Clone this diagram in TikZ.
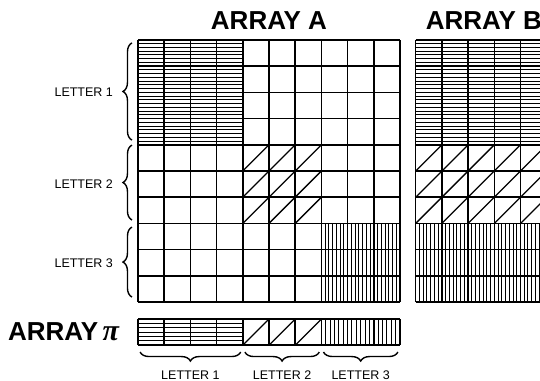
\documentclass[tikz,border=0pt]{standalone}
\usepackage{fontspec}
\setmainfont{Liberation Sans}
\newfontfamily\pifont{Liberation Serif}
\usetikzlibrary{decorations.pathreplacing}

\begin{document}
\begin{tikzpicture}[x=26.2pt,y=26.2pt,
    gridline/.style={line width=1.5pt,xstep=26.2pt,ystep=26.2pt},
    hatch/.style={line width=1pt},
    slash/.style={line width=1.3pt},
    brace/.style={decorate,decoration={brace,amplitude=9pt},line width=1.4pt},
    title/.style={font=\fontsize{26}{28}\selectfont\bfseries,inner sep=0pt},
    lbl/.style={font=\fontsize{12.5}{14}\selectfont,inner sep=0pt}]
  \useasboundingbox (-5.267,-3.015) rectangle (15.344,11.527);
  \fill[white] (-5.267,-3.015) rectangle (15.344,11.527);

  \foreach \k in {1,...,27} \draw[hatch] (0,6+\k/7) -- (4,6+\k/7);
  \foreach \i in {4,5,6} \foreach \j in {3,4,5} \draw[slash] (\i,\j) -- (\i+1,\j+1);
  \foreach \k in {1,...,20} \draw[hatch] (7+\k/7,0) -- (7+\k/7,3);
  \draw[gridline] (0,0) grid (10,10);

  \begin{scope}[shift={(10.6,0)}]
    \foreach \k in {1,...,27} \draw[hatch] (0,6+\k/7) -- (5,6+\k/7);
    \foreach \i in {0,...,4} \foreach \j in {3,4,5} \draw[slash] (\i,\j) -- (\i+1,\j+1);
    \foreach \k in {1,...,34} \draw[hatch] (\k/7,0) -- (\k/7,3);
    \draw[gridline] (0,0) grid (5,10);
  \end{scope}

  \begin{scope}[shift={(0,-1.65)}]
    \foreach \k in {1,...,5} \draw[hatch] (0,\k/6) -- (4,\k/6);
    \foreach \i in {4,5,6} \draw[slash] (\i,0) -- (\i+1,1);
    \foreach \k in {1,...,17} \draw[hatch] (7+\k/6,0) -- (7+\k/6,1);
    \draw[gridline] (0,0) grid (10,1);
  \end{scope}

  \node[title] (titleA) at (5,10.75) {ARRAY A};
  \node[title] (titleB) at (13.2,10.75) {ARRAY B};
  \node[title,anchor=east] (titlePi) at (-0.72,-1.12) {ARRAY\,{\pifont\itshape\fontsize{30}{30}\selectfont π}};

  \draw[brace] (-0.23,6.18) -- (-0.23,9.89);
  \draw[brace] (-0.23,3.13) -- (-0.23,5.99);
  \draw[brace] (-0.23,0.19) -- (-0.23,2.86);
  \node[lbl,anchor=east] (row1) at (-0.95,8) {LETTER 1};
  \node[lbl,anchor=east] (row2) at (-0.95,4.5) {LETTER 2};
  \node[lbl,anchor=east] (row3) at (-0.95,1.5) {LETTER 3};

  \draw[brace] (3.92,-1.91) -- (0.08,-1.91);
  \draw[brace] (6.92,-1.91) -- (4.08,-1.91);
  \draw[brace] (9.92,-1.91) -- (7.08,-1.91);
  \node[lbl] (col1) at (2,-2.79) {LETTER 1};
  \node[lbl] (col2) at (5.5,-2.79) {LETTER 2};
  \node[lbl] (col3) at (8.5,-2.79) {LETTER 3};
\end{tikzpicture}
\end{document}
